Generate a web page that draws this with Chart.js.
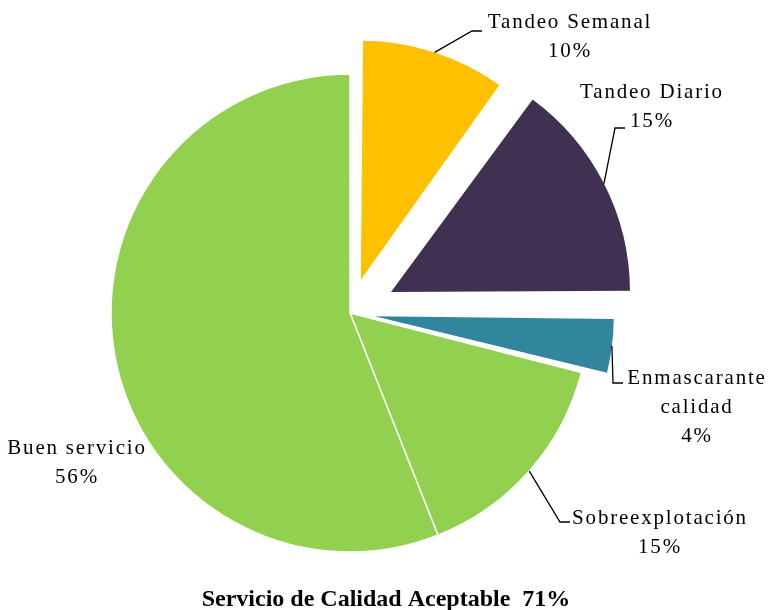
<!DOCTYPE html>
<html>
<head>
<meta charset="utf-8">
<script src="https://cdn.jsdelivr.net/npm/chart.js@4"></script>
<style>
  html, body { margin: 0; padding: 0; background: #fff; }
  #wrap { width: 770px; height: 610px; }
</style>
</head>
<body>
<div id="wrap"><canvas id="pieChart" width="770" height="610"></canvas></div>
<script>
// datos
const categories = ["Tandeo Semanal", "Tandeo Diario", "Enmascarante calidad", "Sobreexplotación", "Buen servicio"];
const values = [10, 15, 4, 15, 56];
const titleText = "Servicio de Calidad Aceptable  71%";

// estilos
const sliceColors = ["#FFC000", "#403151", "#31859C", "#92D050", "#92D050"];
// separación en px de cada porción (Chart.js aplica offset / 4)
const sliceExplode = [35, 46, 25, 0, 0];
const sliceBorders = [0, 0, 0, 1.5, 1.5];

// etiquetas: líneas de texto, centro de la primera línea, codo y final de la guía
const labelLayout = [
  { lines: ["Tandeo Semanal"], x: 570, y: 22, elbow: [472, 31], end: [482, 31] },
  { lines: ["Tandeo Diario"], x: 652, y: 92, elbow: [615, 128], end: [625, 128] },
  { lines: ["Enmascarante", "calidad"], x: 697, y: 378, elbow: [613, 383], end: [623, 383] },
  { lines: ["Sobreexplotación"], x: 660, y: 518, elbow: [560, 522], end: [570, 522] },
  { lines: ["Buen servicio"], x: 77, y: 448, elbow: null, end: null },
];

const total = values.reduce((a, b) => a + b, 0);
const FONT = "'Times New Roman', 'Liberation Serif', serif";

// mantener el mismo radio en las porciones separadas
const keepRadius = {
  id: "keepRadius",
  beforeDatasetsDraw(chart) {
    const meta = chart.getDatasetMeta(0);
    const R = meta.controller.outerRadius;
    meta.data.forEach((arc) => {
      const d = (arc.options.offset || 0) / 4;
      const circ = arc.endAngle - arc.startAngle;
      const fix = 1 - Math.sin(Math.min(Math.PI, circ));
      arc.outerRadius = R - d * fix;
    });
  },
};

const labelPlugin = {
  id: "pieLabels",
  afterDraw(chart) {
    const ctx = chart.ctx;
    const meta = chart.getDatasetMeta(0);
    const R = meta.controller.outerRadius;
    ctx.save();
    ctx.fillStyle = "#000";
    ctx.strokeStyle = "#000";
    ctx.lineWidth = 1.3;
    ctx.textAlign = "center";
    ctx.textBaseline = "middle";
    ctx.font = "21px " + FONT;
    ctx.letterSpacing = "1.8px";

    meta.data.forEach((arc, i) => {
      const lay = labelLayout[i];
      const pct = Math.round((values[i] / total) * 100) + "%";
      const lines = lay.lines.concat([pct]);
      lines.forEach((t, k) => {
        ctx.fillText(t, lay.x, lay.y + k * 29);
      });

      if (lay.elbow) {
        const mid = (arc.startAngle + arc.endAngle) / 2;
        const r = R + (arc.options.offset || 0) / 4;
        const sx = arc.x + Math.cos(mid) * r;
        const sy = arc.y + Math.sin(mid) * r;
        ctx.beginPath();
        ctx.moveTo(sx, sy);
        ctx.lineTo(lay.elbow[0], lay.elbow[1]);
        ctx.lineTo(lay.end[0], lay.end[1]);
        ctx.stroke();
      }
    });

    // título inferior
    ctx.letterSpacing = "0px";
    ctx.textBaseline = "alphabetic";
    ctx.font = "bold 24px " + FONT;
    ctx.fillText(titleText, 386, 606);
    ctx.restore();
  },
};

new Chart(document.getElementById("pieChart"), {
  type: "pie",
  data: {
    labels: categories,
    datasets: [
      {
        data: values,
        backgroundColor: sliceColors,
        borderColor: "#ffffff",
        borderWidth: sliceBorders,
        offset: sliceExplode.map((d) => d * 4),
        hoverOffset: 0,
      },
    ],
  },
  options: {
    responsive: false,
    animation: false,
    radius: 239,
    layout: {
      padding: { left: 0, right: 70, top: 16, bottom: 0 },
    },
    plugins: {
      legend: { display: false },
      tooltip: { enabled: false },
      title: { display: false },
    },
  },
  plugins: [keepRadius, labelPlugin],
});
</script>
</body>
</html>
